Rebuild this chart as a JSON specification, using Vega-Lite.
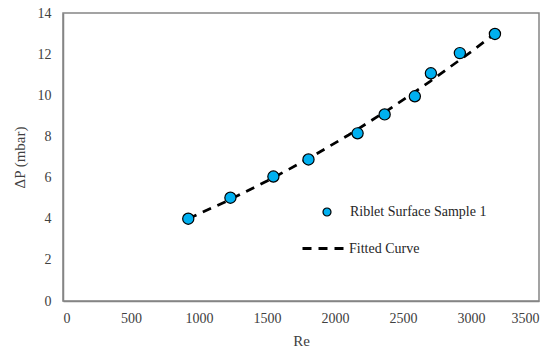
{
  "$schema": "https://vega.github.io/schema/vega-lite/v6.json",
  "width": 476,
  "height": 288,
  "autosize": {"type": "none"},
  "padding": {"left": 63, "top": 13, "right": 19, "bottom": 50},
  "background": "white",
  "config": {
    "font": "Liberation Serif",
    "view": {"stroke": "#858585", "strokeWidth": 1.5},
    "axis": {
      "labelFont": "Liberation Serif",
      "labelFontSize": 14,
      "labelColor": "#404040",
      "titleFont": "Liberation Serif",
      "titleFontSize": 15,
      "titleFontWeight": "normal",
      "titleColor": "#404040",
      "grid": false,
      "ticks": false,
      "domainColor": "#858585",
      "domainWidth": 1.5
    },
    "legend": {
      "labelFont": "Liberation Serif",
      "labelFontSize": 14,
      "labelColor": "#262626",
      "padding": 0
    }
  },
  "datasets": {
    "measured": [
      {"Re": 921, "dP": 4.0, "series": "Riblet Surface Sample 1"},
      {"Re": 1231, "dP": 5.02, "series": "Riblet Surface Sample 1"},
      {"Re": 1547, "dP": 6.05, "series": "Riblet Surface Sample 1"},
      {"Re": 1805, "dP": 6.88, "series": "Riblet Surface Sample 1"},
      {"Re": 2166, "dP": 8.15, "series": "Riblet Surface Sample 1"},
      {"Re": 2365, "dP": 9.07, "series": "Riblet Surface Sample 1"},
      {"Re": 2587, "dP": 9.95, "series": "Riblet Surface Sample 1"},
      {"Re": 2705, "dP": 11.07, "series": "Riblet Surface Sample 1"},
      {"Re": 2918, "dP": 12.05, "series": "Riblet Surface Sample 1"},
      {"Re": 3176, "dP": 12.98, "series": "Riblet Surface Sample 1"}
    ],
    "fitted": [
      {"Re": 921, "dP": 4.0, "series": "Fitted Curve"},
      {"Re": 1200, "dP": 4.84, "series": "Fitted Curve"},
      {"Re": 1500, "dP": 5.83, "series": "Fitted Curve"},
      {"Re": 1800, "dP": 6.9, "series": "Fitted Curve"},
      {"Re": 2100, "dP": 8.07, "series": "Fitted Curve"},
      {"Re": 2400, "dP": 9.33, "series": "Fitted Curve"},
      {"Re": 2700, "dP": 10.68, "series": "Fitted Curve"},
      {"Re": 3000, "dP": 12.11, "series": "Fitted Curve"},
      {"Re": 3176, "dP": 13.0, "series": "Fitted Curve"}
    ]
  },
  "layer": [
    {
      "data": {"name": "fitted"},
      "mark": {"type": "line", "color": "black", "strokeWidth": 2.75},
      "encoding": {
        "x": {
          "field": "Re", "type": "quantitative",
          "scale": {"domain": [0, 3500], "nice": false},
          "axis": {"values": [0, 500, 1000, 1500, 2000, 2500, 3000, 3500], "title": "Re", "labelPadding": 10, "titlePadding": 8, "format": "d",
            "labelFont": "Liberation Serif", "labelFontSize": 14, "titleFont": "Liberation Serif", "titleFontSize": 15, "titleColor": "#404040", "labelColor": "#404040"}
        },
        "y": {
          "field": "dP", "type": "quantitative",
          "scale": {"domain": [0, 14], "nice": false},
          "axis": {"values": [0, 2, 4, 6, 8, 10, 12, 14], "title": "ΔP (mbar)", "labelPadding": 12, "titlePadding": 10,
            "labelFont": "Liberation Serif", "labelFontSize": 14, "titleFont": "Liberation Serif", "titleFontSize": 15, "titleColor": "#404040", "labelColor": "#404040"}
        },
        "strokeDash": {
          "field": "series", "type": "nominal",
          "scale": {"domain": ["Fitted Curve"], "range": [[9, 7]]},
          "legend": {
            "title": null, "orient": "none", "legendX": 238, "legendY": 212,
            "symbolType": "stroke", "symbolSize": 1936, "symbolStrokeWidth": 3,
            "symbolStrokeColor": "black", "labelOffset": 1,
            "labelFont": "Liberation Serif", "labelFontSize": 14
          }
        }
      }
    },
    {
      "data": {"name": "measured"},
      "mark": {"type": "point", "shape": "circle", "filled": true, "size": 125, "stroke": "black", "strokeWidth": 1.2, "opacity": 1},
      "encoding": {
        "x": {"field": "Re", "type": "quantitative"},
        "y": {"field": "dP", "type": "quantitative"},
        "fill": {
          "field": "series", "type": "nominal",
          "scale": {"domain": ["Riblet Surface Sample 1"], "range": ["#00B0F0"]},
          "legend": {
            "title": null, "orient": "none", "legendX": 257, "legendY": 192,
            "symbolType": "circle", "symbolSize": 64, "symbolStrokeColor": "black",
            "symbolStrokeWidth": 1.2, "symbolOpacity": 1, "labelOffset": 16,
            "labelFont": "Liberation Serif", "labelFontSize": 14
          }
        }
      }
    }
  ]
}
